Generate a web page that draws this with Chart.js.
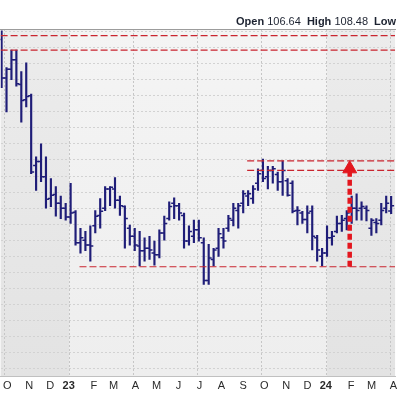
<!DOCTYPE html>
<html>
<head>
<meta charset="utf-8">
<script src="https://cdn.jsdelivr.net/npm/chart.js@4.4.1/dist/chart.umd.min.js"></script>
<style>
  html, body { margin: 0; padding: 0; background: #fff; overflow: hidden; }
  #wrap { position: relative; width: 400px; height: 396px; }
  #quote { position: absolute; left: 236px; top: 15px; font: 11px "Liberation Sans", Arial, sans-serif; color: #1c2230; white-space: nowrap; }
  #quote b { margin-left: 3px; }
  #quote b:first-child { margin-left: 0; }
</style>
</head>
<body>
<div id="wrap">
  <canvas id="priceChart" width="400" height="396"></canvas>
  <div id="quote"><b>Open</b> 106.64 <b>High</b> 108.48 <b>Low</b></div>
</div>
<script>
// weekly bars, index 0 = late Sep 2022 ... 79 = early Apr 2024
var opens = [128.0,123.2,124.3,125.5,122.4,120.5,121.0,112.3,112.8,110.9,
  108.2,108.7,107.6,107.0,105.9,106.5,102.7,103.0,102.4,104.8,
  106.1,107.0,109.4,109.4,108.0,107.2,104.5,103.5,102.3,101.7,
  102.0,101.4,101.2,103.9,105.7,107.6,107.3,106.1,102.9,103.5,
  104.3,102.7,98.0,100.6,102.0,103.3,104.5,105.5,106.7,107.6,
  108.5,108.2,110.1,111.7,110.9,111.7,111.2,110.3,110.4,110.1,
  106.7,106.4,105.6,106.6,103.3,101.0,101.4,103.3,104.1,105.1,
  105.7,106.6,107.0,107.0,107.0,104.5,105.2,105.5,107.0,106.64];
var highs = [129.1,124.5,126.7,126.7,124.0,125.1,121.2,113.4,115.0,113.4,
  110.7,109.7,108.5,107.6,110.1,106.7,104.5,104.1,104.8,106.7,
  108.2,109.7,109.7,110.8,108.5,107.3,104.9,104.5,104.1,103.3,
  103.5,102.9,104.3,106.0,107.8,108.3,107.6,106.4,104.8,105.5,
  105.5,103.3,102.5,102.0,104.5,104.5,106.1,107.6,107.6,109.2,
  109.2,109.8,111.9,113.1,112.2,112.2,111.5,112.9,110.7,110.4,
  107.2,106.6,107.3,107.3,103.6,102.0,104.8,104.1,106.0,106.1,
  106.7,108.5,108.8,107.8,107.3,105.7,105.7,107.6,108.5,108.48];
var lows = [122.0,119.0,123.0,122.2,117.7,119.6,111.3,109.2,110.3,107.0,
  107.2,106.0,105.7,105.5,105.1,102.4,101.4,101.7,100.4,103.9,
  104.5,106.7,107.3,107.0,106.1,102.0,102.4,101.7,99.8,100.4,
  100.6,99.9,100.8,103.0,105.5,105.7,105.5,102.0,102.4,102.7,
  102.9,97.5,97.5,99.8,101.0,102.0,104.1,104.8,104.5,106.4,
  107.3,107.6,109.2,110.3,109.4,110.1,109.2,108.6,108.5,106.4,
  104.9,105.1,103.9,101.8,100.4,99.8,101.0,102.4,103.9,104.1,
  104.3,105.1,105.5,105.5,105.4,103.6,103.9,104.9,106.4,106.3];
var closes = [123.2,124.3,125.5,122.5,120.4,120.9,111.5,112.8,110.9,108.1,
  108.6,107.6,107.0,105.9,106.4,102.7,103.3,102.4,102.3,106.0,
  106.6,109.4,109.6,108.0,107.3,105.7,103.5,102.4,101.7,102.0,
  101.8,101.2,103.9,105.1,107.2,107.3,106.4,102.9,104.1,104.3,
  103.3,98.0,100.8,101.8,103.8,102.9,105.7,107.0,107.3,108.8,
  108.8,109.4,111.3,110.7,111.7,111.9,110.3,111.7,108.6,106.6,
  106.7,105.6,106.4,103.5,101.8,101.4,103.3,103.5,105.1,105.5,
  106.4,107.0,106.7,107.2,106.7,105.5,105.1,106.7,107.6,107.3];

// month starts, in week-index units, and their labels
var monthPos = [0.657,5.086,9.371,13.8,18.229,22.229,26.657,30.943,35.371,39.657,
  44.086,48.514,52.8,57.229,61.514,65.943,70.371,74.514,78.943];
var monthLabels = ['O','N','D','23','F','M','A','M','J','J','A','S','O','N','D','24','F','M','A'];
var quarterIdx = [0,3,6,9,12,15,18];
var priceTicks = [87,89,91,93,95,97,99,101,103,105,107,109,111,113,115,117,119,121,123,125,127,129];

// drawn trend lines: price level and week where each begins
var levelPrices = [128.5, 126.7, 112.9, 111.7, 99.7];
var levelStarts = [-0.2, -0.2, 49.8, 49.8, 15.8];
var arrowWeek = 70.6;
var arrowBase = 99.7;
var arrowHead = 111.9;

var weekMin = -0.2, weekMax = 79.8;
var navy = '#1f1d78';
var isYear = function(i) { return /\d/.test(monthLabels[i]); };

var yearShade = {
  id: 'yearShade',
  beforeDraw: function(chart) {
    var ctx = chart.ctx, a = chart.chartArea, x = chart.scales.x;
    var edges = [a.left, x.getPixelForValue(monthPos[3]), x.getPixelForValue(monthPos[15]), a.right];
    for (var k = 0; k < 3; k++) {
      var g = ctx.createLinearGradient(0, a.top, 0, a.bottom);
      if (k === 1) { g.addColorStop(0, '#f4f4f4'); g.addColorStop(1, '#eeeeee'); }
      else { g.addColorStop(0, '#ececec'); g.addColorStop(1, '#e3e3e3'); }
      ctx.fillStyle = g;
      ctx.fillRect(edges[k], a.top, edges[k + 1] - edges[k], a.bottom - a.top);
    }
  }
};

var datasets = [];
datasets.push({
  type: 'line', xAxisID: 'x', yAxisID: 'y', order: 0,
  data: [{x: arrowWeek, y: arrowBase}, {x: arrowWeek, y: arrowHead}],
  borderColor: '#e3161e', borderWidth: 4.5, borderDash: [6, 3],
  pointRadius: [0, 8], pointStyle: 'triangle',
  pointBackgroundColor: '#e3161e', pointBorderColor: '#e3161e', pointBorderWidth: 1
});
levelPrices.forEach(function(p, k) {
  datasets.push({
    type: 'line', xAxisID: 'x', yAxisID: 'y', order: 1,
    data: [{x: levelStarts[k], y: p}, {x: weekMax, y: p}],
    borderColor: '#c9252f', borderWidth: 1.2, borderDash: [7, 3], pointRadius: 0
  });
});
datasets.push({
  type: 'scatter', xAxisID: 'x', yAxisID: 'y', order: 2,
  data: opens.map(function(v, i) { return {x: i - 0.3, y: v}; }),
  pointStyle: 'line', pointRadius: 1.5, borderColor: navy, borderWidth: 1.5
});
datasets.push({
  type: 'scatter', xAxisID: 'x', yAxisID: 'y', order: 2,
  data: closes.map(function(v, i) { return {x: i + 0.3, y: v}; }),
  pointStyle: 'line', pointRadius: 1.5, borderColor: navy, borderWidth: 1.5
});
datasets.push({
  type: 'bar', xAxisID: 'x', yAxisID: 'y', order: 3,
  data: lows.map(function(v, i) { return {x: i, y: [v, highs[i]]}; }),
  backgroundColor: navy, barThickness: 1.5
});

new Chart(document.getElementById('priceChart'), {
  type: 'scatter',
  data: { datasets: datasets },
  plugins: [yearShade],
  options: {
    responsive: false,
    animation: false,
    layout: { padding: { top: 29, left: 0, right: 0, bottom: 0 }, autoPadding: false },
    plugins: { legend: { display: false }, tooltip: { enabled: false } },
    scales: {
      x: {
        type: 'linear', position: 'bottom', min: weekMin, max: weekMax, offset: false,
        afterBuildTicks: function(s) { s.ticks = quarterIdx.map(function(i) { return {value: monthPos[i]}; }); },
        ticks: { display: false },
        grid: { color: '#c6c6c6', drawTicks: false, offset: false },
        border: { display: false, dash: [2, 2] }
      },
      xl: {
        type: 'linear', position: 'bottom', min: weekMin, max: weekMax, offset: false,
        afterBuildTicks: function(s) {
          s.ticks = monthPos.map(function(p, i) { return {value: p + (isYear(i) ? -0.2 : 0.5)}; });
        },
        grid: { display: false, drawTicks: false, offset: false },
        border: { display: true, color: '#c0c0c0' },
        ticks: {
          autoSkip: false, maxRotation: 0, padding: 3, color: '#2a2a2a',
          font: function(c) { return { family: 'Liberation Sans', size: 11, weight: isYear(c.index) ? 'bold' : 'normal' }; },
          callback: function(v, i) { return monthLabels[i]; }
        }
      },
      xt: {
        type: 'linear', position: 'top', min: weekMin, max: weekMax, offset: false,
        ticks: { display: false },
        grid: { display: false, drawTicks: false },
        border: { display: true, color: '#9c9c9c' }
      },
      y: {
        type: 'linear', position: 'left', min: 85.99, max: 129.32,
        afterBuildTicks: function(s) { s.ticks = priceTicks.map(function(v) { return {value: v}; }); },
        ticks: { display: false },
        grid: { color: '#d2d2d2', drawTicks: false },
        border: { display: false, dash: [2, 2] }
      }
    }
  }
});
</script>
</body>
</html>
